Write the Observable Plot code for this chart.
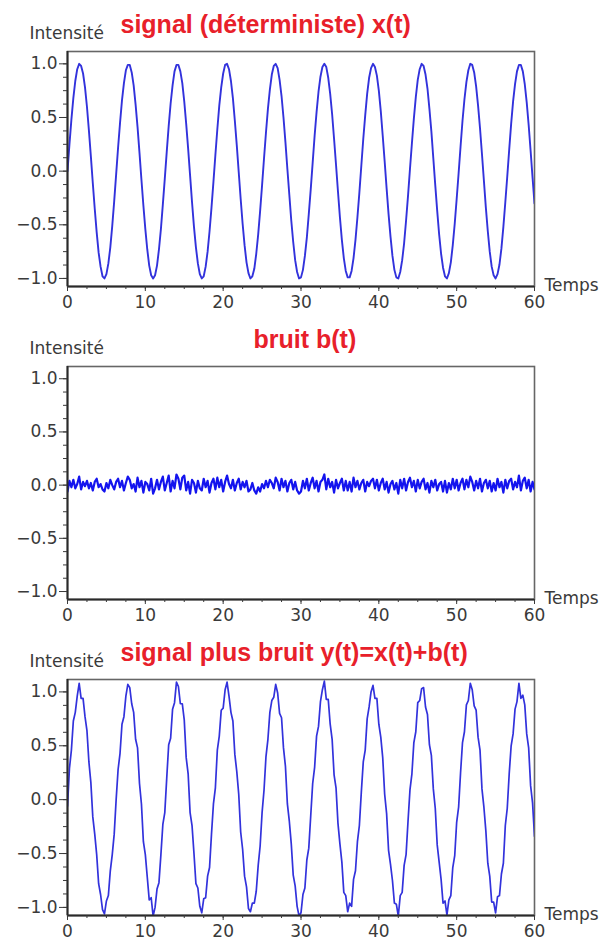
<!DOCTYPE html>
<html>
<head>
<meta charset="utf-8">
<script src="https://cdn.jsdelivr.net/npm/d3@7"></script>
<script src="https://cdn.jsdelivr.net/npm/@observablehq/plot@0.6"></script>
<style>
  html, body { margin: 0; padding: 0; background: #fff; }
  #chart svg { display: block; }
</style>
</head>
<body>
<div id="chart"></div>
<script>
// ---- data ----
const tStep = 0.25; // time step between samples
const xSignal = [
  0.00, 0.25, 0.48, 0.68, 0.84, 0.95, 1.00, 0.98, 0.91, 0.78, 0.60, 0.38,
  0.14, -0.11, -0.35, -0.57, -0.76, -0.89, -0.98, -1.00, -0.96, -0.86, -0.71, -0.51,
  -0.28, -0.03, 0.22, 0.45, 0.66, 0.82, 0.94, 0.99, 0.99, 0.92, 0.80, 0.62,
  0.41, 0.17, -0.08, -0.32, -0.54, -0.73, -0.88, -0.97, -1.00, -0.97, -0.88, -0.73,
  -0.54, -0.31, -0.07, 0.18, 0.42, 0.63, 0.80, 0.93, 0.99, 0.99, 0.93, 0.82,
  0.65, 0.44, 0.21, -0.04, -0.29, -0.52, -0.71, -0.86, -0.96, -1.00, -0.98, -0.89,
  -0.75, -0.56, -0.34, -0.10, 0.15, 0.39, 0.61, 0.78, 0.91, 0.99, 1.00, 0.95,
  0.84, 0.68, 0.47, 0.24, -0.01, -0.26, -0.49, -0.69, -0.85, -0.95, -1.00, -0.98,
  -0.91, -0.77, -0.59, -0.37, -0.13, 0.12, 0.36, 0.58, 0.76, 0.90, 0.98, 1.00,
  0.96, 0.85, 0.70, 0.50, 0.27, 0.02, -0.22, -0.46, -0.66, -0.83, -0.94, -1.00,
  -0.99, -0.92, -0.79, -0.62, -0.40, -0.17, 0.08, 0.33, 0.55, 0.74, 0.88, 0.97,
  1.00, 0.97, 0.87, 0.72, 0.53, 0.30, 0.06, -0.19, -0.43, -0.64, -0.81, -0.93,
  -0.99, -0.99, -0.93, -0.81, -0.64, -0.43, -0.20, 0.05, 0.30, 0.52, 0.72, 0.87,
  0.96, 1.00, 0.97, 0.89, 0.75, 0.56, 0.33, 0.09, -0.16, -0.40, -0.61, -0.79,
  -0.92, -0.99, -1.00, -0.94, -0.83, -0.67, -0.46, -0.23, 0.02, 0.26, 0.49, 0.69,
  0.85, 0.95, 1.00, 0.98, 0.90, 0.77, 0.58, 0.37, 0.12, -0.13, -0.37, -0.59,
  -0.77, -0.90, -0.98, -1.00, -0.95, -0.85, -0.69, -0.49, -0.26, -0.02, 0.23, 0.47,
  0.67, 0.83, 0.94, 1.00, 0.99, 0.92, 0.79, 0.61, 0.40, 0.16, -0.09, -0.34,
  -0.56, -0.75, -0.89, -0.97, -1.00, -0.96, -0.87, -0.72, -0.52, -0.29, -0.05, 0.20,
  0.44, 0.65, 0.81, 0.93, 0.99, 0.99, 0.93, 0.81, 0.64, 0.43, 0.19, -0.06,
  -0.30
];
const bNoise = [
  -0.06, 0.04, -0.02, 0.05, -0.03, 0.01, 0.08, -0.04, 0.03, -0.01, 0.04, -0.03,
  0.02, -0.05, 0.03, 0.06, -0.02, 0.01, -0.04, -0.06, 0.02, -0.03, 0.05, 0.00,
  -0.04, 0.03, 0.06, -0.02, 0.04, -0.05, 0.02, 0.08, 0.05, -0.03, 0.01, -0.06,
  0.07, -0.02, 0.04, -0.07, 0.03, 0.01, -0.05, 0.06, -0.08, -0.03, 0.05, -0.04,
  0.03, 0.08, -0.05, 0.02, 0.09, -0.06, 0.04, -0.03, 0.10, 0.06, -0.04, 0.07,
  0.09, -0.05, 0.03, -0.08, 0.05, 0.02, -0.07, 0.04, -0.03, -0.05, 0.06, -0.02,
  0.04, -0.07, 0.02, 0.06, -0.04, 0.07, -0.02, 0.05, -0.06, 0.03, 0.09, 0.01,
  -0.03, 0.05, -0.05, 0.02, 0.06, -0.04, 0.03, -0.02, 0.04, -0.06, -0.04, 0.02,
  -0.05, -0.08, -0.02, -0.06, 0.01, -0.03, 0.04, -0.02, 0.05, 0.02, -0.03, 0.07,
  0.03, -0.05, 0.06, -0.02, 0.04, -0.06, 0.02, 0.05, -0.04, 0.03, -0.05, -0.08,
  -0.06, 0.04, -0.03, 0.06, -0.05, 0.02, 0.07, -0.03, 0.04, -0.06, 0.03, 0.05,
  0.10, -0.04, 0.06, -0.02, 0.03, -0.07, 0.05, -0.03, 0.02, 0.06, -0.05, 0.04,
  -0.05, 0.03, -0.06, 0.07, -0.02, 0.04, -0.04, 0.02, 0.05, -0.06, 0.03, -0.01,
  0.04, 0.06, -0.03, 0.05, -0.05, 0.02, 0.06, -0.04, 0.03, -0.07, 0.01, 0.04,
  -0.04, 0.02, -0.08, 0.05, -0.03, 0.06, -0.05, 0.03, 0.07, -0.02, 0.04, -0.06,
  0.05, -0.03, 0.03, 0.06, -0.04, 0.02, -0.07, 0.04, -0.02, 0.05, -0.05, 0.01,
  0.03, -0.06, 0.04, -0.07, 0.02, -0.04, 0.06, -0.03, 0.05, -0.05, 0.02, 0.06,
  -0.04, 0.05, -0.02, 0.08, 0.03, -0.05, 0.04, -0.03, 0.06, -0.06, 0.02, 0.05,
  -0.03, 0.04, -0.06, 0.02, -0.05, 0.06, -0.02, 0.03, -0.07, 0.05, -0.03, 0.04,
  0.06, -0.04, 0.03, -0.02, 0.09, -0.05, 0.04, 0.07, -0.03, 0.05, -0.06, 0.03,
  -0.04
];
const xTicks = [0, 10, 20, 30, 40, 50, 60];
const xMinorTicks = [0, 2.5, 5, 7.5, 10, 12.5, 15, 17.5, 20, 22.5, 25, 27.5, 30, 32.5, 35, 37.5, 40, 42.5, 45, 47.5, 50, 52.5, 55, 57.5, 60];
const yTicks = [-1.0, -0.5, 0.0, 0.5, 1.0];
const yMinorTicks = [-1, -0.875, -0.75, -0.625, -0.5, -0.375, -0.25, -0.125, 0, 0.125, 0.25, 0.375, 0.5, 0.625, 0.75, 0.875, 1];
const titles = ["signal (déterministe) x(t)", "bruit b(t)", "signal plus bruit y(t)=x(t)+b(t)"];
const yLabel = "Intensité";
const xLabel = "Temps";

// ---- table ----
const rows = xSignal.map((v, i) => ({t: i * tStep, x: v, b: bNoise[i], y: v + bNoise[i]}));

const yDomain = [-1.075, 1.115];
const lineColor = "#3232dc";
const titleColor = "#e8202a";
const textColor = "#3a3a3a";

function panel(field, title, titleDx, height, marginTop, marginBottom, lineOpts) {
  return Plot.plot({
    width: 604,
    height,
    marginLeft: 67,
    marginRight: 70,
    marginTop,
    marginBottom,
    style: {fontFamily: "'DejaVu Sans', sans-serif", fontSize: "17px", color: textColor, background: "#fff", overflow: "visible"},
    x: {domain: [0, 60]},
    y: {domain: yDomain},
    marks: [
      Plot.frame({stroke: "#666", strokeWidth: 1.6}),
      Plot.line(rows, {x: "t", y: field, stroke: lineColor, strokeWidth: 1.9, clip: true, ...lineOpts}),
      Plot.ruleX([0], {stroke: "#2a2a2a", strokeWidth: 2}),
      Plot.ruleY([yDomain[0]], {stroke: "#2a2a2a", strokeWidth: 2}),
      Plot.axisX({ticks: xMinorTicks, tickSize: 3, tickFormat: () => "", label: null}),
      Plot.axisX({ticks: xTicks, tickSize: 5, tickPadding: 4, tickFormat: d3.format("d"), label: null}),
      Plot.axisY({ticks: yMinorTicks, tickSize: 4, tickFormat: () => "", label: null}),
      Plot.axisY({ticks: yTicks, tickSize: 8, tickPadding: 2, tickFormat: d3.format(".1f"), label: null}),
      Plot.text([yLabel], {text: d => d, frameAnchor: "top-left", dx: -38, dy: -18, lineAnchor: "middle", textAnchor: "start", fontSize: 17, fill: textColor}),
      Plot.text([title], {text: d => d, frameAnchor: "top-left", dx: titleDx, dy: -27, lineAnchor: "middle", textAnchor: "start", fontSize: 25, fontWeight: "bold", fontFamily: "'Liberation Sans', Arial, sans-serif", fill: titleColor}),
      Plot.text([xLabel], {text: d => d, frameAnchor: "bottom-right", dx: 10, dy: -1, lineAnchor: "middle", textAnchor: "start", fontSize: 17, fill: textColor})
    ]
  });
}

const chart = document.getElementById("chart");
chart.append(panel("x", titles[0], 53, 318, 51, 32, {}));
chart.append(panel("b", titles[1], 186, 313, 48, 32, {strokeWidth: 2.2, stroke: "#1414ee"}));
chart.append(panel("y", titles[2], 53, 310, 48, 26, {strokeWidth: 1.7}));
</script>
</body>
</html>
